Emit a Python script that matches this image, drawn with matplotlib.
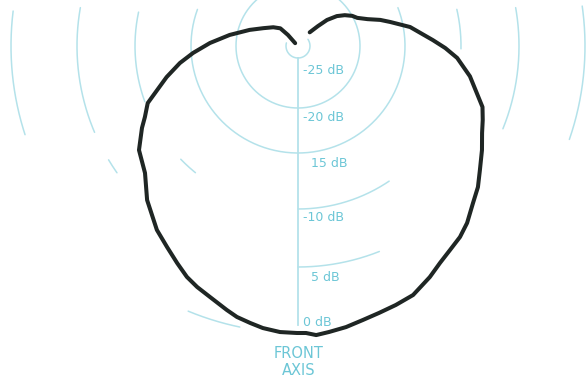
import numpy as np
import matplotlib
matplotlib.use("Agg")
import matplotlib.pyplot as plt

# Directional response: angle in degrees from the front axis (positive toward the right)
angle_deg = [139.4, 135.0, 131.9, 127.6, 123.4, 119.1, 115.4, 111.1, 107.6, 104.6,
             99.6, 92.5, 89.2, 85.7, 80.0, 71.7, 68.2, 64.7, 60.5, 55.7,
             51.9, 48.1, 43.7, 40.3, 36.7, 33.2, 29.7, 24.8, 20.7, 16.9,
             13.3, 9.7, 6.2, 3.6, 1.6, -0.2, -3.6, -7.1, -9.8, -12.7,
             -15.1, -19.3, -22.7, -25.7, -29.1, -33.1, -37.5, -44.4, -50.3, -56.8,
             -62.3, -65.1, -69.2, -72.7, -76.7, -81.8, -86.2, -91.95, -99.2, -108.4,
             -117.2, -127.2, -135.0, -137.7, -135.0]
level_db = [-24.4, -23.4, -22.3, -21.3, -20.6, -20.0, -19.6, -18.6, -17.3, -16.3,
            -14.4, -12.5, -11.4, -10.3, -9.0, -7.3, -6.9, -6.5, -5.83, -5.07,
            -4.42, -3.93, -3.20, -2.77, -2.47, -2.10, -1.59, -0.96, -0.77, -0.61,
            -0.41, -0.14, 0.06, 0.24, 0.01, 0.0, -0.03, -0.21, -0.45, -0.70,
            -1.03, -1.59, -1.95, -2.33, -2.92, -3.57, -4.18, -5.46, -6.91, -7.67,
            -8.86, -9.5, -10.2, -11.4, -12.5, -13.9, -15.2, -17.1, -19.2, -21.1,
            -22.3, -23.1, -23.7, -24.7, -25.8]

# Reference rings and their labels
ring_levels = [-25, -20, -15, -10, -5, 0]
ring_labels = ["-25 dB", "-20 dB", "15 dB", "-10 dB", "5 dB", "0 dB"]

# Radial scale of the chart: level in dB -> drawing radius
scale_db = [-26.2, -25, -20, -15, -10, -5, 0, 3]
scale_r = [0, 12, 62, 107, 163, 221, 287, 320]

# Visible portions of each ring (degrees from the front axis)
ring_arcs = {
    0: [(-97, -72), (71, 98), (-22.5, -11.7)],
    -5: [(-100, -67), (-59, -55), (68, 100), (0, 21.6)],
    -10: [(-102, -70), (-46, -39), (89, 103), (0, 34)],
    -15: [(-110, 111)],
    -20: [(-180, 180)],
    -25: [(-105, 124)],
}

W, H = 587, 379
cx, cy = 298, H - 46
R = 320

fig = plt.figure(figsize=(W / 100, H / 100), dpi=100)
fig.patch.set_facecolor("white")
ax = fig.add_axes([(cx - R) / W, (cy - R) / H, 2 * R / W, 2 * R / H],
                  projection="polar")
ax.set_theta_zero_location("S")
ax.set_theta_direction(1)


def fwd(d):
    return np.interp(d, scale_db, scale_r)


def inv(r):
    return np.interp(r, scale_r, scale_db)


ax.set_rscale("function", functions=(fwd, inv))
ax.set_rlim(scale_db[0], scale_db[-1])
ax.axis("off")

grid_color = "#b4e2ea"
text_color = "#6cc6d6"

for level in ring_levels:
    for a0, a1 in ring_arcs[level]:
        th = np.radians(np.linspace(a0, a1, 300))
        ax.plot(th, np.full_like(th, level), color=grid_color, lw=1.1,
                solid_capstyle="round", zorder=1)

# Front axis
ax.plot([0, 0], [-25, -0.6], color=grid_color, lw=1.3, zorder=1)

# Ring labels along the front axis
label_dx = [5, 5, 13, 5, 13, 5]
label_dy = [-12, -9, -10, -8, -10, 11]
for level, text, dx, dy in zip(ring_levels, ring_labels, label_dx, label_dy):
    ax.annotate(text, xy=(0, level), xytext=(dx, dy), textcoords="offset pixels",
                ha="left", va="center", fontsize=9, color=text_color, zorder=3)

ax.annotate("FRONT\nAXIS", xy=(0, 0), xytext=(1, -13), textcoords="offset pixels",
            ha="center", va="top", fontsize=10.5, color=text_color,
            linespacing=1.2, zorder=3)

# Response curve
ax.plot(np.radians(angle_deg), level_db, color="#1f2624", lw=2.9,
        solid_joinstyle="round", solid_capstyle="round", zorder=2)

fig.savefig("out.png", dpi=100, facecolor="white")
